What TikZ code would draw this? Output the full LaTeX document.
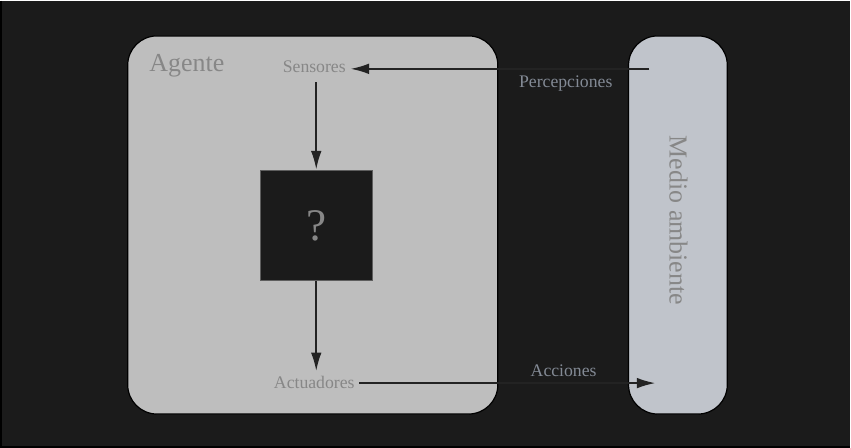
\documentclass[tikz,border=0pt]{standalone}
\usepackage{fontspec}
\setmainfont{Liberation Serif}
\usetikzlibrary{arrows.meta,positioning,calc}
\definecolor{fondo}{HTML}{1B1B1B}
\definecolor{gris}{HTML}{BEBEBE}
\definecolor{azulgris}{HTML}{C0C4CB}
\definecolor{texto}{HTML}{878787}
\definecolor{textoazul}{HTML}{838A95}
\definecolor{flecha}{HTML}{232323}

\begin{document}
\begin{tikzpicture}[x=0.75pt,y=-0.75pt,
    caja/.style={draw=black,line width=0.9pt,rounded corners=22pt,inner sep=0pt},
    etiqueta/.style={text=texto,font=\fontsize{13.3}{16}\selectfont},
    titulo/.style={text=texto,font=\fontsize{19.5}{23}\selectfont},
    flechita/.style={-{Latex[length=14pt,width=8pt]},line width=1.5pt,draw=flecha}
    ]

    %fondo y marco
    \fill[fondo] (0,0) rectangle (851,447);
    \draw[black,line width=1.5pt] (0,0) -- (0,447) -- (851,447);
    \useasboundingbox (0,0) rectangle (851,447);

    %cajas grandes: agente y medio ambiente
    \node[caja,fill=gris,minimum width=371*0.75pt,minimum height=379*0.75pt]
        (agente) at (312.5,224.5) {};
    \node[caja,fill=azulgris,minimum width=99*0.75pt,minimum height=379*0.75pt]
        (medio) at (678.5,224.5) {};

    \node[titulo,anchor=west] (nombre) at (144,65) {Agente};
    \node[titulo,rotate=-90] (ambiente) at (679,220) {Medio ambiente};

    %sensores, la caja negra y actuadores
    \node[etiqueta] (sensores) at (314,66) {Sensores};
    \node[draw=texto!70!black,fill=fondo,line width=0.8pt,
        minimum width=112*0.75pt,minimum height=111*0.75pt,
        text=texto,font=\fontsize{34}{40}\selectfont] (pregunta) at (316,225) {?};
    \node[etiqueta] (actuadores) at (314,382) {Actuadores};

    \coordinate (entrada) at (650,68);
    \coordinate (salida) at (656,383);

    %flechas
    \draw[flechita] (sensores.south -| pregunta.north) ++(0,5) -- (pregunta.north);
    \draw[flechita] (pregunta.south) -- (actuadores.north -| pregunta.south);
    \draw[flechita] (entrada) -- node[pos=0.28,below=1pt,etiqueta,text=textoazul]{Percepciones}
        (sensores.east |- entrada);
    \draw[flechita] (actuadores.east |- salida) -- node[pos=0.69,above=1pt,etiqueta,text=textoazul]{Acciones}
        (salida);
\end{tikzpicture}
\end{document}
